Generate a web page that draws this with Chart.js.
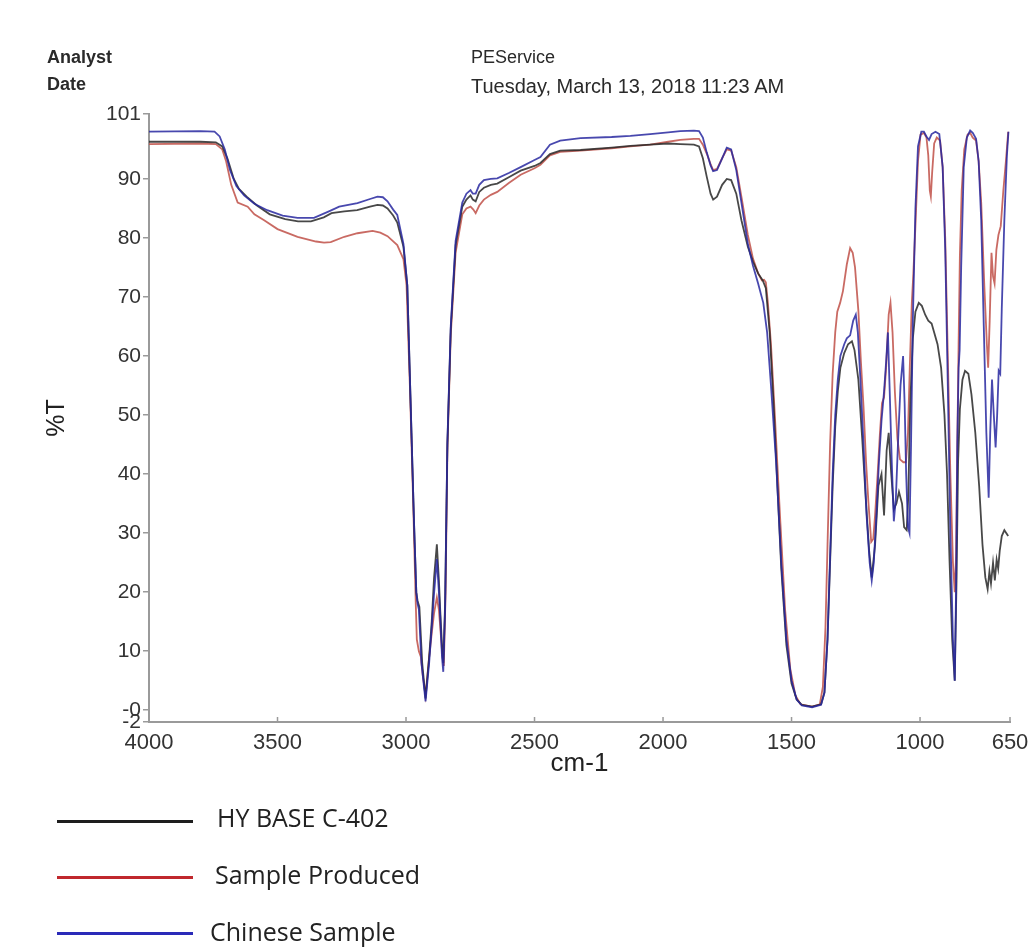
<!DOCTYPE html>
<html>
<head>
<meta charset="utf-8">
<script src="https://cdn.jsdelivr.net/npm/chart.js@4.4.1/dist/chart.umd.min.js"></script>
<style>
  html, body { margin: 0; padding: 0; background: #fff; }
  #page { position: relative; width: 1032px; height: 949px; overflow: hidden; }
  #chart-canvas { position: absolute; left: 0; top: 0; }
  .hdr { position: absolute; font-family: "Liberation Sans", Arial, sans-serif; font-size: 18px; color: #2a2a2a; white-space: nowrap; line-height: 1; }
  .hdr.bold { font-weight: bold; }
  .legend-line { position: absolute; left: 57px; width: 136px; height: 3px; }
  .legend-text { position: absolute; font-family: "Open Sans", "Noto Sans", sans-serif; font-size: 25px; color: #222; white-space: nowrap; line-height: 1; }
</style>
</head>
<body>
<div id="page">
  <canvas id="chart-canvas" width="1032" height="949"></canvas>
  <div class="hdr bold" style="left:47px; top:48px;">Analyst</div>
  <div class="hdr bold" style="left:47px; top:75px;">Date</div>
  <div class="hdr" style="left:471px; top:48px;">PEService</div>
  <div class="hdr" style="left:471px; top:76px; font-size:20px;">Tuesday, March 13, 2018 11:23 AM</div>

  <div class="legend-line" style="top:820px; background:#1e1e1e;"></div>
  <div class="legend-text" style="left:217px; top:805px;">HY BASE C-402</div>
  <div class="legend-line" style="top:876px; background:#c0282d;"></div>
  <div class="legend-text" style="left:215px; top:862px;">Sample Produced</div>
  <div class="legend-line" style="top:932px; background:#2a2ab8;"></div>
  <div class="legend-text" style="left:210px; top:919px;">Chinese Sample</div>
</div>
<script>
// tick labels
const xTicks = [4000, 3500, 3000, 2500, 2000, 1500, 1000, 650];
const yTicks = [101, 90, 80, 70, 60, 50, 40, 30, 20, 10, 0, -2];

// HY BASE C-402 (black)
const hyBaseWn = [4000, 3800, 3740, 3715, 3695, 3670, 3650, 3620, 3580, 3530, 3470, 3420, 3370, 3320, 3290, 3240, 3190, 3140, 3111, 3090, 3072, 3050, 3034, 3010, 2995, 2982, 2969, 2960, 2955, 2948, 2937, 2924, 2910, 2900, 2891, 2880, 2872, 2867, 2860, 2855, 2848, 2839, 2826, 2807, 2781, 2765, 2749, 2740, 2729, 2715, 2697, 2670, 2645, 2600, 2554, 2500, 2477, 2440, 2400, 2321, 2200, 2127, 2050, 1980, 1933, 1880, 1860, 1845, 1830, 1815, 1805, 1790, 1770, 1752, 1735, 1715, 1695, 1670, 1650, 1630, 1612, 1600, 1585, 1570, 1555, 1540, 1520, 1500, 1480, 1460, 1420, 1385, 1372, 1360, 1350, 1340, 1330, 1320, 1310, 1295, 1280, 1265, 1255, 1240, 1225, 1210, 1198, 1188, 1175, 1162, 1150, 1140, 1130, 1122, 1112, 1102, 1092, 1082, 1070, 1062, 1052, 1046, 1038, 1028, 1018, 1005, 993, 980, 968, 955, 945, 932, 918, 905, 895, 885, 875, 865, 858, 852, 845, 835, 825, 812, 800, 785, 770, 757, 746, 737, 730, 724, 716, 709, 702, 696, 690, 682, 672, 657];
const hyBaseT = [96.3, 96.3, 96.2, 95.5, 93.5, 90, 88.3, 87, 85.5, 84, 83.2, 82.8, 82.8, 83.5, 84.2, 84.5, 84.7, 85.3, 85.6, 85.5, 85, 83.8, 82.6, 78.5, 72, 52, 32, 20, 18.5, 17.5, 8, 2, 9, 15, 22.4, 28.1, 22, 17, 11, 8, 18, 45, 64.5, 78.8, 85.3, 86.5, 87.2, 86.5, 86.2, 87.8, 88.5, 89, 89.2, 90.3, 91.4, 92.2, 92.7, 94.2, 94.8, 94.9, 95.3, 95.6, 95.8, 96, 95.9, 95.8, 95.5, 93.5, 90.4, 87.5, 86.5, 87, 89, 90, 89.8, 87.5, 83, 78.5, 76, 74, 72.8, 71.5, 64, 52, 38, 24, 11, 4.5, 1.8, 0.9, 0.6, 1, 3, 12, 25, 38, 48, 54, 58, 60.5, 62, 62.5, 61, 56, 46, 35, 27, 22.5, 28, 38, 40, 33, 44, 47, 40, 34, 35, 37, 35, 31, 30.5, 36, 52, 63, 67.5, 69, 68.5, 67, 66, 65.5, 64, 62, 58, 50, 40, 25, 12, 5, 22, 42, 51, 56, 57.5, 57, 53.5, 47, 38, 28, 22.5, 20.5, 23.5, 21.5, 25, 22, 25.5, 24, 27, 29.5, 30.5, 29.5];

// Sample Produced (red)
const sampleWn = [4000, 3800, 3740, 3715, 3700, 3680, 3655, 3616, 3590, 3552, 3500, 3422, 3350, 3319, 3293, 3240, 3189, 3130, 3100, 3072, 3034, 3010, 2998, 2985, 2972, 2962, 2958, 2950, 2942, 2935, 2924, 2910, 2900, 2891, 2880, 2872, 2865, 2858, 2853, 2846, 2839, 2826, 2807, 2781, 2765, 2749, 2738, 2729, 2715, 2697, 2670, 2645, 2600, 2554, 2500, 2477, 2440, 2400, 2321, 2200, 2127, 2050, 1980, 1933, 1880, 1860, 1845, 1830, 1815, 1805, 1790, 1770, 1752, 1735, 1715, 1695, 1670, 1650, 1630, 1615, 1607, 1600, 1592, 1580, 1565, 1545, 1525, 1505, 1485, 1465, 1420, 1390, 1378, 1368, 1360, 1350, 1340, 1330, 1322, 1311, 1300, 1285, 1272, 1262, 1253, 1240, 1230, 1220, 1210, 1201, 1190, 1182, 1175, 1165, 1156, 1148, 1140, 1132, 1122, 1115, 1107, 1098, 1088, 1078, 1065, 1055, 1047, 1040, 1032, 1026, 1018, 1008, 998, 985, 975, 968, 962, 958, 953, 945, 935, 922, 912, 902, 892, 882, 872, 865, 860, 855, 850, 845, 838, 828, 815, 805, 795, 782, 772, 762, 750, 740, 735, 729, 722, 716, 710, 703, 695, 686, 676, 666, 657];
const sampleT = [95.9, 96, 95.9, 95, 93, 89, 86, 85.3, 84, 83, 81.5, 80.2, 79.4, 79.2, 79.3, 80.2, 80.8, 81.2, 80.9, 80.3, 78.8, 76.4, 72, 55, 35, 18, 12, 10, 9, 6, 2.5, 9, 13, 16.4, 19.1, 17, 13, 9, 7.5, 20, 44, 63.5, 77.5, 84, 85, 85.3, 84.8, 84.2, 85.5, 86.5, 87.3, 87.8, 89.3, 90.7, 91.8, 92.4, 94, 94.6, 94.8, 95.2, 95.5, 95.8, 96.3, 96.6, 96.8, 96.8, 95.8, 94.3, 92.5, 91.5, 91.7, 93.5, 95, 94.8, 92, 87, 80.5, 76.5, 74, 72.8, 72.9, 72.5, 69, 62, 50, 33, 17, 7, 2.5, 1, 0.6, 1, 4, 14, 28, 45, 57, 64, 67.5, 69, 71, 75.5, 78.3, 77.5, 75, 67.7, 59, 51.5, 42, 35.3, 28.5, 29, 33, 40, 47, 52, 53, 58, 67, 69, 64, 54, 46, 42.5, 42, 42, 47, 58, 69, 74, 82, 93, 97.5, 97.8, 97, 94, 88, 87, 91, 96, 97, 96.5, 92, 80, 60, 40, 25, 20, 26, 45, 62, 77, 88, 95, 97.5, 97.8, 97, 96.5, 93, 86, 72, 62, 58, 66, 77.5, 73.5, 72.3, 78, 80.5, 82, 88, 93, 98];

// Chinese Sample (blue)
const chineseWn = [4000, 3800, 3745, 3725, 3705, 3685, 3660, 3630, 3590, 3540, 3480, 3422, 3358, 3300, 3260, 3189, 3140, 3111, 3090, 3072, 3050, 3034, 3010, 2995, 2982, 2969, 2960, 2955, 2950, 2940, 2924, 2910, 2900, 2891, 2880, 2872, 2867, 2860, 2855, 2848, 2839, 2826, 2807, 2781, 2765, 2749, 2740, 2729, 2715, 2697, 2670, 2645, 2600, 2554, 2500, 2477, 2440, 2400, 2321, 2200, 2127, 2050, 1980, 1933, 1880, 1860, 1845, 1830, 1815, 1805, 1790, 1770, 1752, 1735, 1715, 1695, 1670, 1650, 1630, 1610, 1595, 1580, 1560, 1540, 1520, 1500, 1480, 1460, 1420, 1385, 1372, 1360, 1350, 1340, 1330, 1320, 1310, 1295, 1285, 1272, 1260, 1250, 1242, 1232, 1220, 1208, 1196, 1188, 1180, 1170, 1160, 1150, 1140, 1132, 1125, 1118, 1110, 1102, 1094, 1086, 1076, 1066, 1060, 1054, 1047, 1041, 1035, 1028, 1018, 1008, 995, 985, 975, 965, 955, 940, 925, 912, 902, 892, 882, 872, 865, 860, 855, 850, 846, 840, 830, 818, 805, 795, 782, 772, 762, 752, 742, 733, 727, 720, 713, 706, 700, 694, 688, 682, 672, 662, 656];
const chineseT = [98, 98.1, 98, 97.2, 95, 91.5, 88.8, 87.2, 85.8, 84.7, 83.8, 83.4, 83.4, 84.5, 85.3, 85.9, 86.6, 87, 86.9, 86.2, 84.8, 83.9, 79, 72, 52, 32, 20, 18, 17.1, 8, 1.5, 8, 14, 19.7, 25.6, 20, 16, 9, 6.5, 17, 45.5, 65, 79.5, 86, 87.5, 88.1, 87.5, 87.5, 89, 89.8, 90, 90.1, 91, 92, 93.2, 93.7, 95.8, 96.5, 96.9, 97.1, 97.3, 97.6, 97.9, 98.1, 98.2, 98.1, 97, 94.5, 92.3, 91.3, 91.5, 93.5, 95.3, 95, 91.5, 86, 79, 75.3, 72.3, 69, 64, 55, 42, 25, 12, 5, 1.8, 0.8, 0.5, 0.9, 3, 12, 26, 40, 50, 56, 60, 62, 63, 63.5, 66, 67, 64, 56, 45, 33, 25, 22, 25, 33, 42, 49, 54, 59, 64, 54, 42, 32, 36, 45, 55, 60, 52, 40, 31, 30, 45, 66, 85, 95.5, 98, 98, 97.2, 96.6, 97.6, 98, 97.6, 92, 78, 55, 30, 12, 5, 20, 45, 58, 61, 75, 92, 97, 98.2, 97.8, 96.8, 93, 83, 65, 47, 36, 47, 56, 50, 44.5, 50, 57.5, 57, 68, 83, 94, 98];

function toPoints(wn, t) {
    return wn.map((w, i) => ({ x: w, y: t[i] }));
}

const fontFamily = "'Liberation Sans', Arial, sans-serif";
const axisColor = '#9a9a9a';

// small tick marks on the x axis pointing into the plot
const xTickMarks = {
    id: 'xTickMarks',
    afterDraw(chart) {
        const ctx = chart.ctx;
        const xScale = chart.scales.x;
        const bottom = chart.chartArea.bottom;
        ctx.save();
        ctx.strokeStyle = axisColor;
        ctx.lineWidth = 1.5;
        xTicks.forEach(v => {
            const px = xScale.getPixelForValue(v);
            ctx.beginPath();
            ctx.moveTo(px, bottom);
            ctx.lineTo(px, bottom - 5);
            ctx.stroke();
        });
        ctx.restore();
    }
};

const chartCanvas = document.getElementById('chart-canvas');
const chart = new Chart(chartCanvas, {
    type: 'line',
    data: {
        datasets: [
            {
                label: 'HY BASE C-402',
                data: toPoints(hyBaseWn, hyBaseT),
                borderColor: 'rgba(40,40,40,0.85)',
                order: 1
            },
            {
                label: 'Sample Produced',
                data: toPoints(sampleWn, sampleT),
                borderColor: 'rgba(192,80,72,0.85)',
                order: 2
            },
            {
                label: 'Chinese Sample',
                data: toPoints(chineseWn, chineseT),
                borderColor: 'rgba(40,40,160,0.85)',
                order: 0
            }
        ]
    },
    options: {
        responsive: false,
        animation: false,
        layout: { padding: { left: 39, top: 114, right: 22, bottom: 167 } },
        elements: {
            point: { radius: 0 },
            line: { borderWidth: 1.8, tension: 0 }
        },
        plugins: {
            legend: { display: false },
            tooltip: { enabled: false }
        },
        scales: {
            x: {
                type: 'linear',
                reverse: true,
                min: 650,
                max: 4000,
                afterFit: s => { s.height = 60; },
                afterBuildTicks: s => { s.ticks = xTicks.map(v => ({ value: v })); },
                ticks: {
                    autoSkip: false,
                    maxRotation: 0,
                    padding: 2,
                    color: '#333',
                    font: { family: fontFamily, size: 22 },
                    callback: v => String(v)
                },
                grid: { display: false, drawTicks: true, tickLength: 6 },
                border: { display: true, color: axisColor, width: 2 },
                title: {
                    display: true,
                    text: 'cm-1',
                    color: '#222',
                    font: { family: fontFamily, size: 26 },
                    padding: { top: 0, bottom: 3 }
                }
            },
            y: {
                min: -2,
                max: 101,
                afterFit: s => { s.width = 110; },
                afterBuildTicks: s => { s.ticks = yTicks.map(v => ({ value: v })); },
                ticks: {
                    autoSkip: false,
                    padding: 2,
                    color: '#333',
                    font: { family: fontFamily, size: 21 },
                    callback: v => (v === 0 ? '-0' : String(v))
                },
                grid: { drawOnChartArea: false, drawTicks: true, tickLength: 6, color: axisColor, lineWidth: 1.5 },
                border: { display: true, color: axisColor, width: 2 },
                title: {
                    display: true,
                    text: '%T',
                    color: '#222',
                    font: { family: fontFamily, size: 25 },
                    padding: { top: 3, bottom: 0 }
                }
            }
        }
    },
    plugins: [xTickMarks]
});
</script>
</body>
</html>
